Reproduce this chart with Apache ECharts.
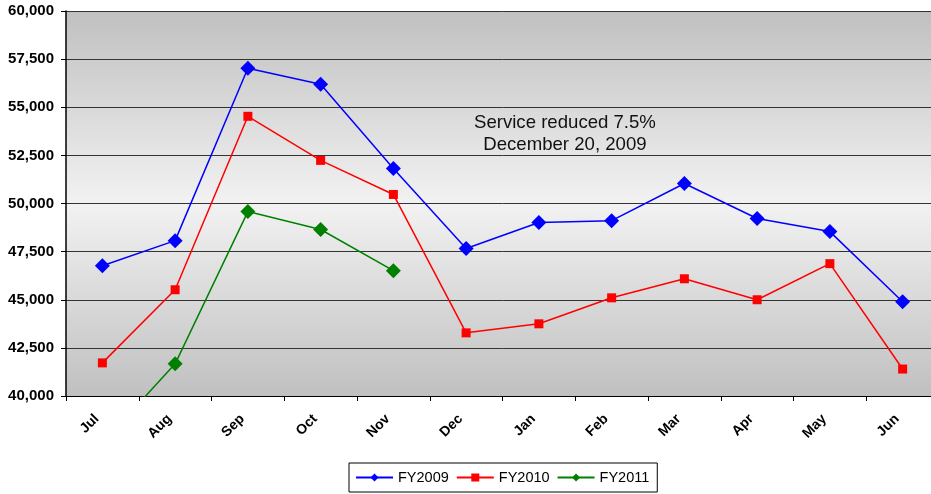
<!DOCTYPE html>
<html>
<head>
<meta charset="utf-8">
<script src="https://cdn.jsdelivr.net/npm/echarts@6/dist/echarts.min.js"></script>
<style>
  html, body { margin: 0; padding: 0; background: #fff; overflow: hidden; }
  #chart { width: 940px; height: 494px; }
</style>
</head>
<body>
<div id="chart"></div>
<script>
// months of the fiscal year
const months = ['Jul', 'Aug', 'Sep', 'Oct', 'Nov', 'Dec', 'Jan', 'Feb', 'Mar', 'Apr', 'May', 'Jun'];

const fy2009 = [46770, 48070, 57030, 56200, 51820, 47660, 49010, 49110, 51040, 49220, 48540, 44900];
const fy2010 = [41720, 45520, 54530, 52240, 50470, 43280, 43750, 45100, 46090, 45000, 46875, 41400];
const fy2011 = [37550, 41670, 49580, 48650, 46510, null, null, null, null, null, null, null];

const chart = echarts.init(document.getElementById('chart'));

const bg = new echarts.graphic.LinearGradient(0, 0, 0, 1, [
    { offset: 0, color: '#c0c0c0' },
    { offset: 0.5, color: '#f2f2f2' },
    { offset: 1, color: '#c0c0c0' }
]);

chart.setOption({
    animation: false,
    textStyle: { fontFamily: 'Liberation Sans, Arial, sans-serif' },
    grid: {
        left: 66, right: 1, top: 11, bottom: 98,
        show: true, backgroundColor: bg, borderWidth: 0
    },
    legend: {
        bottom: 2,
        left: 349,
        itemGap: 7,
        itemWidth: 37,
        itemHeight: 10,
        padding: [7, 8, 7, 6],
        borderColor: '#000',
        borderWidth: 1,
        borderRadius: 0,
        textStyle: { fontSize: 14.5, color: '#000' },
        data: ['FY2009', 'FY2010', 'FY2011']
    },
    xAxis: {
        type: 'category',
        data: months,
        boundaryGap: true,
        axisLine: { lineStyle: { color: '#000', width: 1 } },
        axisTick: { show: true, length: 5, lineStyle: { color: '#000' } },
        axisLabel: {
            rotate: 45, fontSize: 14, fontWeight: 'bold', color: '#000',
            margin: 15, padding: [0, 8, 0, 0]
        },
        splitLine: { show: false }
    },
    yAxis: {
        type: 'value',
        min: 40000, max: 60000, interval: 2500,
        axisLine: { show: true, lineStyle: { color: '#000', width: 1.5 } },
        axisTick: { show: true, length: 5, lineStyle: { color: '#000' } },
        axisLabel: {
            fontSize: 15, fontWeight: 'bold', color: '#000', margin: 12,
            formatter: v => v.toLocaleString('en-US')
        },
        splitLine: { show: true, lineStyle: { color: '#333', width: 1 } }
    },
    series: [
        {
            name: 'FY2009', type: 'line', data: fy2009,
            symbol: 'diamond', symbolSize: 15,
            itemStyle: { color: '#0000ff' },
            lineStyle: { color: '#0000ff', width: 1.5 }
        },
        {
            name: 'FY2010', type: 'line', data: fy2010,
            symbol: 'rect', symbolSize: 9,
            itemStyle: { color: '#ff0000' },
            lineStyle: { color: '#ff0000', width: 1.5 }
        },
        {
            name: 'FY2011', type: 'line', data: fy2011,
            symbol: 'diamond', symbolSize: 15,
            itemStyle: { color: '#008000' },
            lineStyle: { color: '#008000', width: 1.5 },
            clip: true
        }
    ],
    graphic: [{
        type: 'text',
        left: 474, top: 112,
        style: {
            text: 'Service reduced 7.5%\nDecember 20, 2009',
            textAlign: 'center',
            fontSize: 18.6,
            lineHeight: 22,
            fill: '#111',
            fontFamily: 'Liberation Sans, Arial, sans-serif'
        }
    }]
});
</script>
</body>
</html>
